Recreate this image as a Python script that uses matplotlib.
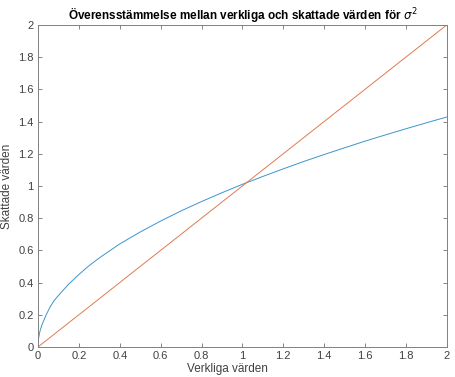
import matplotlib
matplotlib.use('Agg')
import matplotlib.pyplot as plt
from matplotlib.ticker import FuncFormatter

x_vals = [0, 0.002, 0.01, 0.02, 0.04, 0.06, 0.08, 0.1, 0.15, 0.2, 0.25, 0.3,
          0.4, 0.5, 0.6, 0.7, 0.8, 0.9, 1.0, 1.1, 1.2, 1.3, 1.4, 1.5, 1.6,
          1.7, 1.8, 1.9, 2.0]
est_vals = [0, 0.05, 0.10, 0.14, 0.20, 0.25, 0.29, 0.32, 0.39, 0.45, 0.505,
            0.553, 0.64, 0.714, 0.782, 0.845, 0.903, 0.958, 1.01, 1.059,
            1.106, 1.152, 1.195, 1.237, 1.278, 1.317, 1.355, 1.392, 1.428]
ref_x = [0, 2]
ref_y = [0, 2]
ticks = [0, 0.2, 0.4, 0.6, 0.8, 1, 1.2, 1.4, 1.6, 1.8, 2]

plt.rcParams['font.family'] = ['Liberation Sans', 'DejaVu Sans']

fig = plt.figure(figsize=(4.55, 3.77), dpi=100)
ax = fig.add_axes([0.0835, 0.0796, 0.8985, 0.8544])

ax.plot(x_vals, est_vals, color='#3d94cc', linewidth=0.7)
ax.plot(ref_x, ref_y, color='#e07a50', linewidth=0.7)

ax.set_xlim(0, 2)
ax.set_ylim(0, 2)
ax.set_xticks(ticks)
ax.set_yticks(ticks)
fmt = FuncFormatter(lambda v, p: ('%g' % v))
ax.xaxis.set_major_formatter(fmt)
ax.yaxis.set_major_formatter(fmt)
ax.tick_params(direction='in', length=3, width=0.6, color='#707070',
               labelsize=8, labelcolor='#404040', top=True, right=True, pad=3)
for s in ax.spines.values():
    s.set_color('#808080')
    s.set_linewidth(0.7)

ax.set_title(r'Överensstämmelse mellan verkliga och skattade värden för $\sigma^2$',
             fontsize=8.5, fontweight='bold', pad=4)
ax.set_xlabel('Verkliga värden', fontsize=8.5, color='#404040')
ax.xaxis.set_label_coords(0.5, 0.038, transform=fig.transFigure)
ax.set_ylabel('Skattade värden', fontsize=8.5, color='#404040', labelpad=4)

fig.savefig('out.png', dpi=100)
